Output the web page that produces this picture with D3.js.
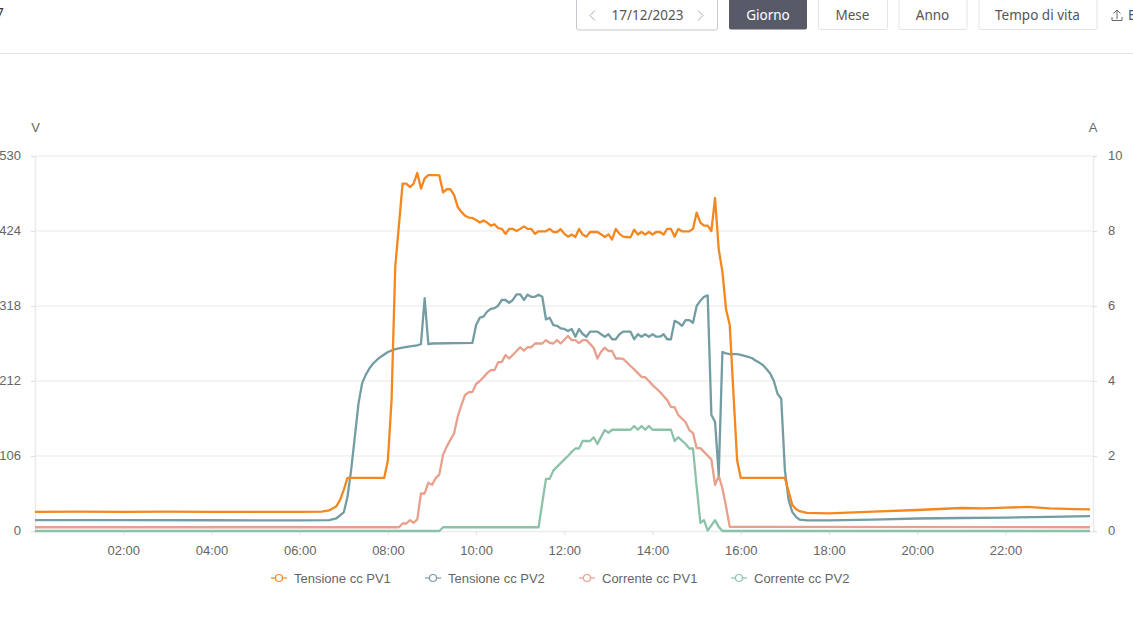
<!DOCTYPE html>
<html>
<head>
<meta charset="utf-8">
<script src="https://cdn.jsdelivr.net/npm/d3@7"></script>
<style>
  html, body { margin: 0; padding: 0; background: #fff; overflow: hidden; }
  svg { display: block; }
  text { font-family: "Liberation Sans", Arial, sans-serif; }
  .head text { font-family: "Noto Sans", sans-serif; font-size: 13.5px; }
</style>
</head>
<body>
<div id="chart"></div>
<script>
// all times are minutes after midnight
const tickTimes = [120, 240, 360, 480, 600, 720, 840, 960, 1080, 1200, 1320];
const voltTicks = [0, 106, 212, 318, 424, 530];
const ampTicks = [0, 2, 4, 6, 8, 10];
const dateLabel = "17/12/2023";
const periodButtons = ["Giorno", "Mese", "Anno", "Tempo di vita"];
const seriesNames = ["Tensione cc PV1", "Tensione cc PV2", "Corrente cc PV1", "Corrente cc PV2"];
const seriesColors = ["#f4871e", "#749ca3", "#e8a08c", "#8cc2aa"];

const pv1VoltTimes = [0, 60, 120, 180, 240, 300, 360, 390, 400, 410, 415, 420, 425, 475, 480, 485, 490, 495, 500, 505, 510, 515, 520, 525, 530, 535, 540, 545, 550, 555, 560, 565, 570, 575, 580, 585, 590, 595, 600, 605, 610, 615, 620, 625, 630, 635, 640, 645, 650, 655, 660, 665, 670, 675, 680, 685, 690, 695, 700, 705, 710, 715, 720, 725, 730, 735, 740, 745, 750, 755, 760, 765, 770, 775, 780, 785, 790, 795, 800, 805, 810, 815, 820, 825, 830, 835, 840, 845, 850, 855, 860, 865, 870, 875, 880, 885, 890, 895, 900, 905, 910, 915, 920, 925, 930, 935, 940, 945, 950, 955, 960, 1020, 1025, 1030, 1035, 1040, 1050, 1080, 1140, 1200, 1260, 1290, 1320, 1350, 1380, 1415, 1435];
const pv1Volt = [27, 27.5, 27, 27.5, 27, 27, 27, 27.5, 29, 35, 44, 58, 75, 75, 100, 185, 373.5, 432, 491, 491, 486, 491, 506, 484, 498.5, 503, 503, 503, 502.6, 478.7, 483, 483, 475, 458, 451, 445.6, 443, 442.4, 439.5, 436, 439, 436, 431.5, 433.5, 428, 427, 420, 427, 427, 424, 427, 430.6, 427, 427, 420, 423.6, 423.6, 423.6, 427, 422.6, 422.6, 426.4, 420, 416, 419, 415.5, 427, 419, 416, 422.6, 422.6, 422.6, 419.3, 415.5, 419.3, 412, 427, 420, 416, 415.5, 415, 426, 419, 422.6, 419, 422.6, 419, 422.6, 422.6, 419, 427, 427, 416, 427, 423.6, 423.6, 423.6, 427, 450, 436, 431.5, 431.5, 424, 470.6, 398, 366.5, 313, 291, 195, 100, 75, 75, 56, 37, 31, 28, 25.5, 25, 27.5, 29.7, 32.5, 32, 33, 34, 32, 31, 30.5];

const pv2VoltTimes = [0, 120, 240, 360, 400, 410, 420, 425, 430, 435, 440, 445, 450, 455, 460, 465, 470, 475, 480, 485, 490, 500, 510, 520, 525, 530, 535, 540, 595, 600, 605, 610, 615, 620, 625, 630, 635, 640, 645, 650, 655, 660, 665, 670, 675, 680, 685, 690, 695, 700, 705, 710, 715, 720, 725, 730, 735, 740, 745, 750, 755, 760, 765, 770, 775, 780, 785, 790, 795, 800, 805, 810, 815, 820, 825, 830, 835, 840, 845, 850, 855, 860, 865, 870, 875, 880, 885, 890, 895, 900, 905, 910, 915, 920, 925, 930, 935, 940, 945, 955, 960, 970, 975, 980, 985, 990, 995, 1000, 1005, 1010, 1015, 1020, 1025, 1030, 1035, 1040, 1050, 1080, 1140, 1200, 1260, 1320, 1380, 1435];
const pv2Volt = [15.5, 15.5, 15.2, 15, 15.5, 18, 26.4, 48, 86, 133, 180, 209, 221, 230, 236.7, 241.7, 246, 249.5, 253, 255, 257, 259, 261, 262.5, 264, 329, 264, 265, 266, 291, 301.5, 303, 310, 314, 315, 318.4, 326.5, 326.5, 322.6, 326.5, 334.5, 334.5, 326.5, 334, 331, 331, 334, 331, 299, 301.5, 291, 290, 286.5, 285.5, 282.6, 285.5, 274.6, 285.5, 278.4, 274.6, 281.7, 281.7, 281.7, 278, 274.6, 278, 271, 271, 278, 281.7, 281.7, 281.7, 271, 278, 274.6, 278, 274.6, 278, 274.6, 274.6, 278, 271, 271, 297, 294.4, 290, 298, 298, 294.4, 318, 325.5, 331, 333, 164, 154.5, 79, 253, 251, 250, 250, 249, 246, 244.5, 241, 238, 234.6, 229, 222.6, 212, 194, 187, 86, 44, 27, 20, 16, 15, 15, 16, 17.7, 18.4, 19, 20, 21];

const pv1AmpTimes = [0, 495, 500, 505, 510, 515, 520, 525, 530, 535, 540, 545, 550, 555, 560, 565, 570, 575, 580, 585, 590, 595, 600, 605, 610, 615, 620, 625, 630, 635, 640, 645, 650, 655, 660, 665, 670, 675, 680, 685, 690, 695, 700, 705, 710, 715, 720, 725, 730, 735, 740, 745, 750, 755, 760, 765, 770, 775, 780, 785, 790, 795, 800, 805, 810, 815, 820, 825, 830, 835, 840, 845, 850, 855, 860, 865, 870, 875, 880, 885, 890, 895, 900, 905, 910, 915, 920, 925, 930, 935, 940, 945, 1435];
const pv1Amp = [0.1, 0.1, 0.2, 0.2, 0.29, 0.22, 0.31, 1.0, 1.0, 1.29, 1.23, 1.41, 1.51, 2.03, 2.25, 2.43, 2.6, 3.05, 3.36, 3.63, 3.7, 3.71, 3.92, 4.0, 4.1, 4.21, 4.29, 4.29, 4.5, 4.51, 4.69, 4.6, 4.7, 4.8, 4.9, 4.81, 4.9, 4.9, 5.0, 5.0, 5.0, 5.09, 5.02, 5.0, 5.09, 5.0, 5.1, 5.2, 5.09, 5.09, 5.01, 5.09, 5.09, 4.99, 4.88, 4.6, 4.78, 4.89, 4.8, 4.8, 4.6, 4.6, 4.59, 4.5, 4.4, 4.31, 4.21, 4.11, 4.1, 4.0, 3.89, 3.8, 3.71, 3.6, 3.49, 3.31, 3.3, 3.09, 3.0, 2.9, 2.69, 2.61, 2.21, 2.21, 2.11, 2.01, 1.91, 1.23, 1.47, 1.14, 0.65, 0.11, 0.1];

const pv2AmpTimes = [0, 550, 555, 685, 690, 695, 700, 705, 710, 715, 720, 725, 730, 735, 740, 745, 755, 760, 765, 770, 775, 780, 785, 810, 815, 820, 825, 830, 835, 840, 865, 870, 875, 880, 885, 890, 895, 900, 905, 910, 915, 920, 925, 930, 935, 1435];
const pv2Amp = [0, 0, 0.1, 0.1, 0.75, 1.39, 1.39, 1.61, 1.71, 1.81, 1.91, 2.0, 2.11, 2.2, 2.2, 2.4, 2.4, 2.5, 2.32, 2.51, 2.69, 2.62, 2.7, 2.7, 2.8, 2.7, 2.8, 2.7, 2.8, 2.7, 2.7, 2.4, 2.5, 2.41, 2.32, 2.2, 2.2, 1.18, 0.22, 0.29, 0.01, 0.15, 0.29, 0.11, 0, 0];

const W = 1133, H = 631;
const svg = d3.select("#chart").append("svg").attr("width", W).attr("height", H);

const x = d3.scaleLinear().domain([0, 1435]).range([35, 1090]);
const yVolt = d3.scaleLinear().domain([0, 530]).range([531, 156]);
const yAmp = d3.scaleLinear().domain([0, 10]).range([531, 156]);

// grid
svg.append("g").selectAll("line")
  .data(voltTicks.slice(1))
  .join("line")
    .attr("x1", x.range()[0]).attr("x2", 1093)
    .attr("y1", d => yVolt(d)).attr("y2", d => yVolt(d))
    .attr("stroke", "#f4f4f4").attr("stroke-width", 2);

// axes
function styleAxis(g) {
  g.selectAll(".domain").attr("stroke", "#ebebeb").attr("stroke-width", 1.5);
  g.selectAll(".tick line").attr("stroke", "#e0e0e0");
  g.selectAll("text").attr("fill", "#666").style("font-size", "13px");
}
svg.append("g")
  .attr("transform", "translate(0,531)")
  .call(d3.axisBottom(x).tickValues(tickTimes).tickSizeOuter(0).tickSize(4).tickPadding(11)
    .tickFormat(d => d3.format("02")(d / 60) + ":00"))
  .call(g => g.select(".domain").attr("d", "M35,0.5H1093"))
  .call(styleAxis);
svg.append("g")
  .attr("transform", "translate(35,0)")
  .call(d3.axisLeft(yVolt).tickValues(voltTicks).tickSizeOuter(0).tickSize(4).tickPadding(10))
  .call(styleAxis)
  .call(g => g.selectAll("text").attr("y", -1));
svg.append("g")
  .attr("transform", "translate(1093,0)")
  .call(d3.axisRight(yAmp).tickValues(ampTicks).tickSizeOuter(0).tickSize(4).tickPadding(11))
  .call(styleAxis)
  .call(g => g.selectAll("text").attr("y", -1));

svg.append("text").attr("x", 35.5).attr("y", 132).attr("text-anchor", "middle")
  .attr("fill", "#666").style("font-size", "13px").text("V");
svg.append("text").attr("x", 1093).attr("y", 132).attr("text-anchor", "middle")
  .attr("fill", "#666").style("font-size", "13px").text("A");

// lines
const seriesData = [
  { times: pv1VoltTimes, values: pv1Volt, y: yVolt },
  { times: pv2VoltTimes, values: pv2Volt, y: yVolt },
  { times: pv1AmpTimes, values: pv1Amp, y: yAmp },
  { times: pv2AmpTimes, values: pv2Amp, y: yAmp },
];
const line = d3.line().x(d => x(d[0])).y(d => d[1]);
// drawn back to front, the first series ends up on top of the others
svg.append("g").attr("fill", "none").attr("stroke-width", 2.3).attr("stroke-linejoin", "round")
  .selectAll("path")
  .data(seriesData.map((s, i) => ({ ...s, i })).reverse())
  .join("path")
    .attr("stroke", d => seriesColors[d.i])
    .attr("d", d => line(d.times.map((t, k) => [t, d.y(d.values[k])])));

// legend
const legendX = [271, 425, 579, 731];
const legend = svg.append("g").selectAll("g")
  .data(seriesNames)
  .join("g")
    .attr("transform", (d, i) => `translate(${legendX[i]},578)`);
legend.append("line").attr("x1", 0).attr("x2", 16)
  .attr("stroke", (d, i) => seriesColors[i]).attr("stroke-width", 1.2);
legend.append("circle").attr("cx", 8).attr("r", 3.5).attr("fill", "#fff")
  .attr("stroke", (d, i) => seriesColors[i]).attr("stroke-width", 1.2);
legend.append("text").attr("x", 23).attr("y", 4.5).attr("fill", "#666")
  .style("font-size", "13px").text(d => d);

// page header
const head = svg.append("g").attr("class", "head");
head.append("line").attr("x1", 0).attr("x2", W).attr("y1", 53.5).attr("y2", 53.5).attr("stroke", "#e4e4e8");
// both of these are cut by the window edge in the reference too
head.append("text").attr("x", -4).attr("y", 18).attr("fill", "#333").text("7");
head.append("rect").attr("x", 576.5).attr("y", -3).attr("width", 141).attr("height", 33).attr("rx", 2)
  .attr("fill", "#fff").attr("stroke", "#c8c8d0");
head.append("text").attr("x", 647.5).attr("y", 20).attr("text-anchor", "middle").attr("fill", "#555").text(dateLabel);
head.append("path").attr("d", "M595,10.5l-5,5l5,5M698,10.5l5,5l-5,5").attr("fill", "none").attr("stroke", "#aaa");

const buttonX = [729, 818, 898.5, 978.5];
const buttonW = [78, 69, 68, 118];
const btn = head.selectAll("g.btn").data(periodButtons).join("g").attr("class", "btn");
btn.append("rect")
  .attr("x", (d, i) => buttonX[i] + (i ? 0.5 : 0)).attr("y", -3)
  .attr("width", (d, i) => buttonW[i]).attr("height", 32.5).attr("rx", 2)
  .attr("fill", (d, i) => i ? "#fff" : "#585a68")
  .attr("stroke", (d, i) => i ? "#e4e4e8" : "none");
btn.append("text")
  .attr("x", (d, i) => buttonX[i] + buttonW[i] / 2).attr("y", 20).attr("text-anchor", "middle")
  .attr("fill", (d, i) => i ? "#555" : "#fff").text(d => d);

head.append("path").attr("d", "M1112,17v3.5h10v-3.5M1117,19v-8M1113.5,13.5l3.5,-3.5l3.5,3.5").attr("fill", "none").attr("stroke", "#666");
head.append("text").attr("x", 1128).attr("y", 20).attr("fill", "#555").text("E");
</script>
</body>
</html>
